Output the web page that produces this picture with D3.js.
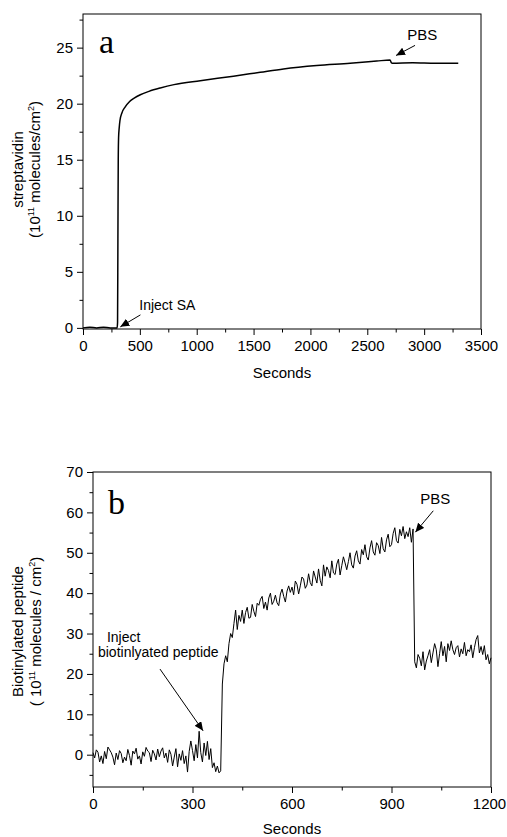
<!DOCTYPE html>
<html>
<head>
<meta charset="utf-8">
<script src="https://cdn.jsdelivr.net/npm/d3@7"></script>
<style>
  body { margin: 0; background: #fff; }
  svg text { font-family: Arial, "Liberation Sans", sans-serif; fill: #000; }
</style>
</head>
<body>
<svg id="chart" width="507" height="837"></svg>
<script>
// ---- panel a: streptavidin binding (seconds, 10^11 molecules/cm^2)
const aTime  = [0, 60, 120, 180, 240, 300, 304, 307, 310, 313, 318, 325, 343, 370, 410, 450, 504, 580, 679, 800, 1031, 1323, 1558, 1763, 2056, 2349, 2583, 2700, 2712, 2720, 2900, 3100, 3300]
const aValue = [0, 0.05, 0, 0.05, 0, 0, 0.5, 8, 15, 17, 17.8, 18.5, 19.2, 19.7, 20.2, 20.5, 20.8, 21.1, 21.4, 21.7, 22.05, 22.45, 22.8, 23.1, 23.4, 23.6, 23.8, 23.9, 23.65, 23.6, 23.65, 23.6, 23.6]
const aXTicks = [0, 500, 1000, 1500, 2000, 2500, 3000, 3500]
const aXMinor = [250, 750, 1250, 1750, 2250, 2750, 3250]
const aYTicks = [0, 5, 10, 15, 20, 25]
const aYMinor = [2.5, 7.5, 12.5, 17.5, 22.5, 27.5]

// ---- panel b: biotinylated peptide, one reading every bStep seconds
const bStep = 5
const bValue = [
  // 0 - 95
  0.5, -0.8, 1.2, 0.6, -1.8, -0.3, -2.2, 0.8, -1.0, 1.9, 1.2, 0.5, -0.6, -2.5, 0.4, -1.2, 1.0, 0.3, -2.0, -0.6,
  // 100 - 195
  -1.5, 1.3, -0.2, -2.6, 0.9, 0.2, 1.6, -1.1, -0.3, -2.3, 0.7, -0.4, 1.8, 0.9, 0.5, -1.7, 1.1, 0.2, -1.3, 1.4,
  // 200 - 295
  -0.5, 0.9, 1.7, -0.8, 0.4, -1.9, 1.2, 0.1, -2.8, -0.6, 1.5, -3.0, 0.2, -1.4, 1.0, -2.2, -0.3, -4.3, 0.8, 3.4,
  // 300 - 385
  1.0, -1.5, 2.5, -0.8, 5.8, 0.5, -1.8, 2.9, -0.2, 3.3, -1.2, 1.5, -3.2, -2.0, -4.2, -2.8, -4.5, -4.0,
  // 390 - 495
  17.5, 22.5, 24.5, 23.0, 27.5, 30.0, 29.0, 32.5, 35.8, 31.0, 34.5, 33.0, 35.8, 32.5, 35.2, 36.5, 33.8, 34.0, 37.2, 35.5, 34.2, 37.5,
  // 500 - 595
  37.0, 38.5, 39.2, 36.2, 37.8, 35.8, 38.8, 40.0, 37.2, 38.0, 39.5, 37.6, 36.9, 39.8, 41.0, 39.2, 37.8, 40.5, 41.8, 40.2,
  // 600 - 695
  41.5, 39.6, 43.0, 42.2, 39.8, 41.8, 44.0, 43.5, 41.2, 42.0, 44.8, 42.6, 41.8, 45.5, 44.0, 42.5, 46.0, 43.2, 41.8, 47.0,
  // 700 - 795
  44.2, 46.5, 45.6, 43.8, 48.0, 45.0, 44.6, 47.2, 48.4, 44.5, 46.8, 49.0, 47.5, 45.8, 47.8, 50.0, 47.0, 46.2, 49.2, 50.5,
  // 800 - 895
  48.0, 47.2, 50.8, 49.5, 52.0, 49.0, 48.2, 51.2, 53.0, 50.2, 49.4, 52.5, 51.8, 49.8, 53.8, 51.0, 50.2, 53.2, 54.6, 51.5,
  // 900 - 965
  52.0, 54.8, 56.2, 53.0, 52.4, 55.8, 54.2, 56.5, 53.5, 55.2, 54.0, 56.2, 52.6, 55.9,
  // 970 - 1045
  23.0, 21.5, 24.8, 23.9, 22.0, 25.5, 21.0, 23.2, 24.5, 26.0, 22.8, 25.2, 27.5, 26.0, 21.8, 25.0,
  // 1050 - 1125
  28.0, 24.5, 26.8, 23.0, 27.5, 25.8, 28.2, 26.0, 24.8, 26.5, 27.0, 24.2, 26.2, 25.0, 27.8, 24.5,
  // 1130 - 1200
  26.0, 25.5, 27.2, 24.0, 26.5, 28.5, 29.5, 25.2, 26.8, 24.8, 27.0, 23.5, 24.8, 22.5, 24.0
]
const bXTicks = [0, 300, 600, 900, 1200]
const bXMinor = [150, 450, 750, 1050]
const bYTicks = [0, 10, 20, 30, 40, 50, 60, 70]
const bYMinor = [-5, 5, 15, 25, 35, 45, 55, 65]

const svg = d3.select('#chart')

// arrow head used by the annotations
svg.append('defs').append('marker')
  .attr('id', 'head')
  .attr('markerUnits', 'userSpaceOnUse')
  .attr('markerWidth', 10).attr('markerHeight', 8)
  .attr('refX', 9).attr('refY', 4)
  .attr('orient', 'auto')
  .append('path').attr('d', 'M0,0 L9,4 L0,8 Z').attr('fill', '#000')

function drawPanel(p) {
  const x = d3.scaleLinear().domain(p.xDomain).range([p.left, p.right])
  const y = d3.scaleLinear().domain(p.yDomain).range([p.bottom, p.top])
  const g = svg.append('g')

  // minor ticks
  g.append('g').attr('transform', `translate(0,${p.bottom})`)
    .call(d3.axisBottom(x).tickValues(p.xMinor).tickSize(3.5).tickSizeOuter(0).tickFormat(''))
  g.append('g').attr('transform', `translate(${p.left},0)`)
    .call(d3.axisLeft(y).tickValues(p.yMinor).tickSize(3.5).tickSizeOuter(0).tickFormat(''))

  // major ticks + labels
  const xAxis = g.append('g').attr('transform', `translate(0,${p.bottom})`)
    .call(d3.axisBottom(x).tickValues(p.xTicks).tickSize(6).tickPadding(5).tickSizeOuter(0).tickFormat(d3.format('d')))
  g.append('g').attr('transform', `translate(${p.left},0)`)
    .call(d3.axisLeft(y).tickValues(p.yTicks).tickSize(6).tickPadding(4).tickSizeOuter(0).tickFormat(d3.format('d')))

  g.selectAll('.domain').remove()
  g.selectAll('.tick line').attr('stroke', '#000')
  g.selectAll('.tick text').attr('font-size', 15).attr('font-family', null)
  // last x label sits at the right edge of the page
  xAxis.selectAll('.tick text').filter(d => d === p.xDomain[1]).attr('dx', p.lastLabelDx)

  // frame
  g.append('rect')
    .attr('x', p.left).attr('y', p.top)
    .attr('width', p.right - p.left).attr('height', p.bottom - p.top)
    .attr('fill', 'none').attr('stroke', '#000').attr('stroke-width', 1)

  // data line
  g.append('path')
    .datum(p.points)
    .attr('fill', 'none')
    .attr('stroke', '#000')
    .attr('stroke-width', p.lineWidth)
    .attr('stroke-linejoin', 'round')
    .attr('d', d3.line().curve(p.curve).x(d => x(d[0])).y(d => y(d[1])))

  // x title
  g.append('text')
    .attr('x', (p.left + p.right) / 2).attr('y', p.bottom + p.xTitleDy)
    .attr('text-anchor', 'middle').attr('font-size', 15)
    .text('Seconds')

  // y title (two rotated lines)
  const cy = (p.top + p.bottom) / 2 + p.titleShift
  g.append('text')
    .attr('transform', `translate(${p.title1X},${cy}) rotate(-90)`)
    .attr('text-anchor', 'middle').attr('font-size', 15)
    .text(p.title1)
  const t2 = g.append('text')
    .attr('transform', `translate(${p.title2X},${cy}) rotate(-90)`)
    .attr('text-anchor', 'middle').attr('font-size', 15)
  let raised = false
  p.title2.forEach(part => {
    const span = t2.append('tspan')
    if (part.sup) {
      span.attr('font-size', 9).attr('dy', -6).text(part.sup)
      raised = true
    } else {
      if (raised) span.attr('dy', 6)
      raised = false
      span.text(part.t)
    }
  })

  // panel letter
  g.append('text')
    .attr('x', p.left + p.letterDx).attr('y', p.letterY)
    .attr('font-size', 34)
    .style('font-family', '"Times New Roman", "Liberation Serif", serif')
    .text(p.letter)

  // annotations
  p.notes.forEach(n => {
    n.lines.forEach(l => {
      g.append('text')
        .attr('x', x(l.at[0])).attr('y', y(l.at[1]))
        .attr('font-size', n.size)
        .text(l.text)
    })
    g.append('line')
      .attr('x1', x(n.from[0])).attr('y1', y(n.from[1]))
      .attr('x2', x(n.to[0])).attr('y2', y(n.to[1]))
      .attr('stroke', '#000').attr('stroke-width', 1)
      .attr('marker-end', 'url(#head)')
  })
}

drawPanel({
  left: 83, right: 481, top: 14, bottom: 329,
  xDomain: [0, 3500], yDomain: [-0.1, 28],
  xTicks: aXTicks, xMinor: aXMinor, yTicks: aYTicks, yMinor: aYMinor,
  points: aTime.map((t, i) => [t, aValue[i]]),
  lineWidth: 1.5, curve: d3.curveMonotoneX, lastLabelDx: 0, xTitleDy: 49,
  title1: 'streptavidin',
  title2: [{t: '(10'}, {sup: '11'}, {t: ' molecules/cm'}, {sup: '2'}, {t: ')'}],
  title1X: 23, title2X: 40, titleShift: -2,
  letter: 'a', letterDx: 16, letterY: 53,
  notes: [
    {size: 15, lines: [{text: 'PBS', at: [2851, 25.7]}], from: [2920, 25.2], to: [2753, 24.3]},
    {size: 14, lines: [{text: 'Inject SA', at: [495, 1.6]}], from: [505, 1.16], to: [328, 0.09]}
  ]
})

drawPanel({
  left: 93, right: 491, top: 472, bottom: 787,
  xDomain: [0, 1200], yDomain: [-8, 70],
  xTicks: bXTicks, xMinor: bXMinor, yTicks: bYTicks, yMinor: bYMinor,
  points: bValue.map((v, i) => [i * bStep, v]),
  lineWidth: 1, curve: d3.curveLinear, lastLabelDx: -2, xTitleDy: 47,
  title1: 'Biotinylated peptide',
  title2: [{t: '( 10'}, {sup: '11'}, {t: ' molecules / cm'}, {sup: '2'}, {t: ')'}],
  title1X: 23, title2X: 41, titleShift: 2,
  letter: 'b', letterDx: 15, letterY: 514,
  notes: [
    {size: 15, lines: [{text: 'PBS', at: [987, 62.1]}], from: [1026, 60.4], to: [972, 55.1]},
    {size: 14, lines: [{text: 'Inject', at: [42, 27.9]}, {text: 'biotinlyated peptide', at: [15, 24.2]}],
     from: [202, 21.2], to: [332, 5.9]}
  ]
})
</script>
</body>
</html>
